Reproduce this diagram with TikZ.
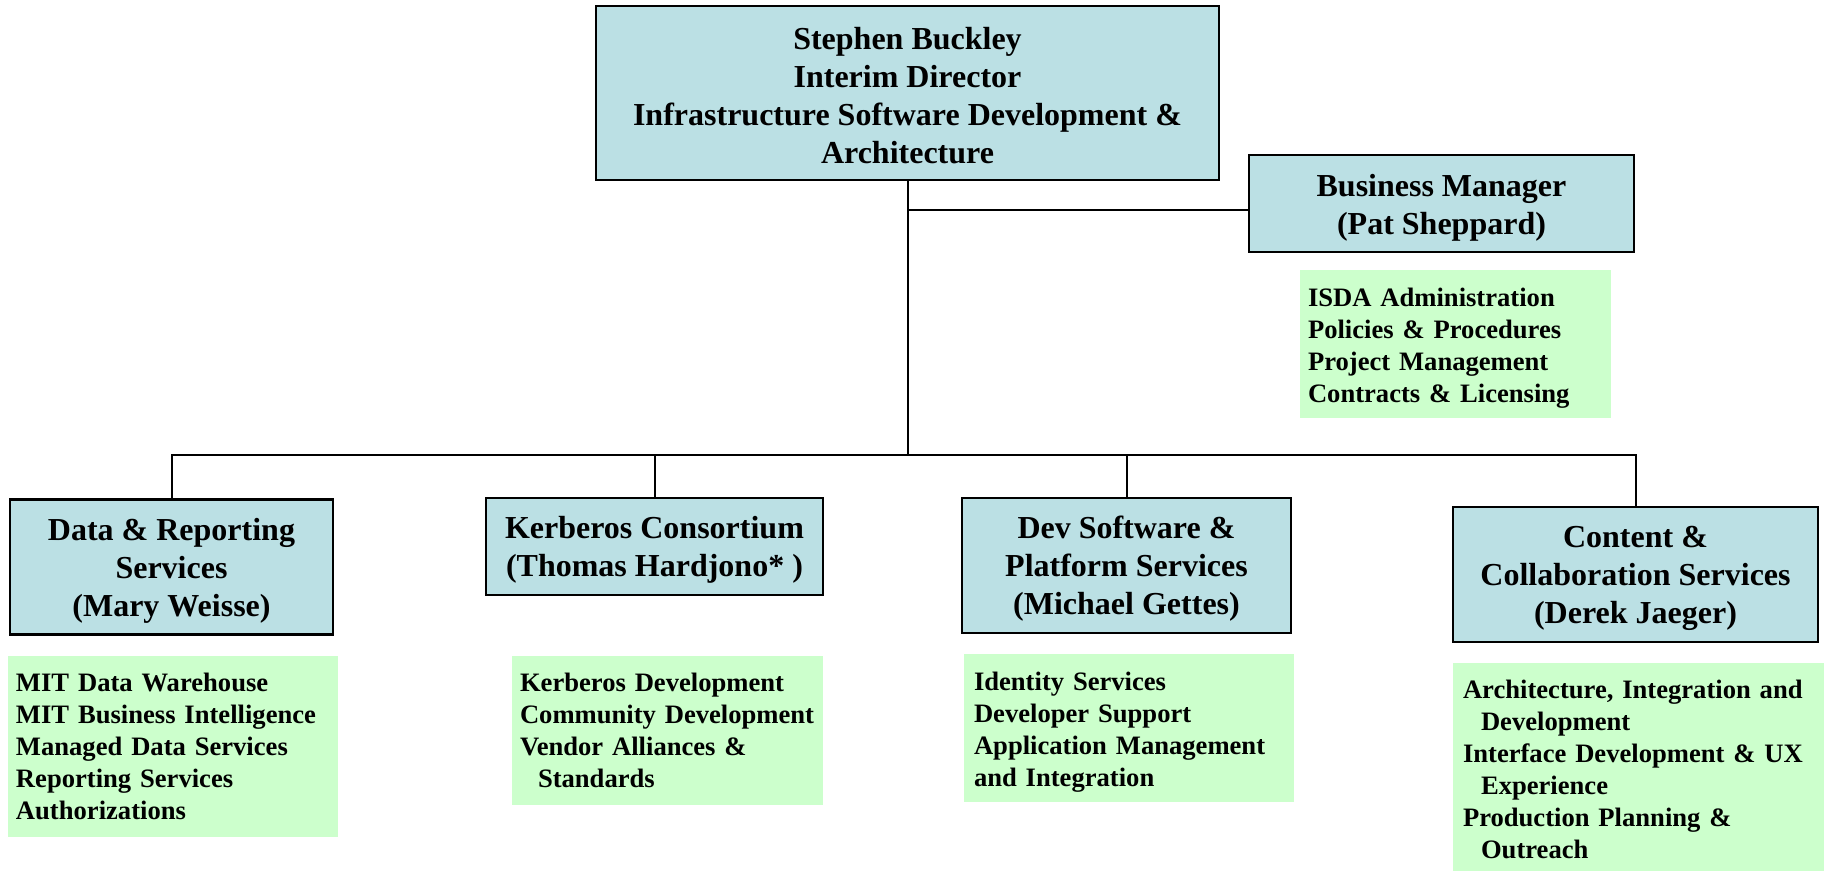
\documentclass[tikz,border=0pt]{standalone}
\usepackage{fontspec}
\setmainfont{Liberation Serif}
\definecolor{boxblue}{RGB}{187,224,228}
\definecolor{boxgreen}{RGB}{204,255,204}
\tikzset{
  headbox/.style={draw=black, line width=1.1pt, fill=boxblue, inner sep=0pt},
  headtext/.style={align=center, inner sep=0pt, font=\fontsize{16}{19}\selectfont\bfseries},
  listbox/.style={fill=boxgreen, inner sep=0pt},
  listtext/.style={align=left, inner sep=0pt, font=\fontsize{13.3}{16}\selectfont\bfseries},
  link/.style={line width=1pt, draw=black}
}
\newcommand{\hang}{\hspace*{9pt}}
\begin{document}
\begin{tikzpicture}[x=0.5pt,y=-0.5pt]
\useasboundingbox (0,0) rectangle (1826,871);
% head boxes
\node[headbox, minimum width=311.5pt, minimum height=87pt,
  label={[headtext, yshift=-1.2pt]center:{Stephen Buckley\\Interim Director\\Infrastructure Software Development \&\\Architecture}}]
  (top) at (907.5,93) {};
\node[headbox, minimum width=192.5pt, minimum height=48.5pt,
  label={[headtext, yshift=-2pt]center:{Business Manager\\(Pat Sheppard)}}]
  (bm) at (1441.5,203.5) {};
\node[headbox, minimum width=161.5pt, minimum height=67.5pt,
  label={[headtext, yshift=-1.8pt]center:{Data \& Reporting\\Services\\(Mary Weisse)}}]
  (drs) at (171.5,567) {};
\node[headbox, minimum width=168.5pt, minimum height=48.5pt,
  label={[headtext, yshift=-1.8pt]center:{Kerberos Consortium\\(Thomas Hardjono* )}}]
  (kc) at (654.5,546.5) {};
\node[headbox, minimum width=164.5pt, minimum height=67.5pt,
  label={[headtext, yshift=-1.8pt]center:{Dev Software \&\\Platform Services\\(Michael Gettes)}}]
  (dsp) at (1126.5,565.5) {};
\node[headbox, minimum width=182.5pt, minimum height=67.5pt,
  label={[headtext, yshift=-1.8pt]center:{Content \&\\Collaboration Services\\(Derek Jaeger)}}]
  (ccs) at (1635.5,574.5) {};
% list boxes
\node[listbox, minimum width=155.5pt, minimum height=74pt,
  label={[listtext, text width=147.5pt, yshift=-2.2pt]center:{ISDA Administration\\Policies \& Procedures\\Project Management\\Contracts \& Licensing}}]
  (bmg) at (1455.5,344) {};
\node[listbox, minimum width=165pt, minimum height=90.5pt,
  label={[listtext, text width=157pt]center:{MIT Data Warehouse\\MIT Business Intelligence\\Managed Data Services\\Reporting Services\\Authorizations}}]
  (drsg) at (173,746.5) {};
\node[listbox, minimum width=155.5pt, minimum height=74.5pt,
  label={[listtext, text width=147.5pt]center:{Kerberos Development\\Community Development\\Vendor Alliances \&\\\hang Standards}}]
  (kcg) at (667.5,730.5) {};
\node[listbox, minimum width=165pt, minimum height=74pt,
  label={[listtext, text width=155pt, yshift=-2.2pt]center:{Identity Services\\Developer Support\\Application Management\\and Integration}}]
  (dspg) at (1129,728) {};
\node[listbox, minimum width=185.5pt, minimum height=104pt,
  label={[listtext, text width=175.5pt, yshift=-1.2pt]center:{Architecture, Integration and\\\hang Development\\Interface Development \& UX\\\hang Experience\\Production Planning \&\\\hang Outreach}}]
  (ccsg) at (1638.5,767) {};
% connectors
\coordinate (bus) at (907.5,455);
\coordinate (bmjoin) at (907.5,210);
\draw[link] (top.south) -- (bus);
\draw[link] (bmjoin) -- (bmjoin -| bm.west);
\draw[link] (drs.north) -- (drs.north |- bus) -- (ccs.north |- bus) -- (ccs.north);
\draw[link] (kc.north) -- (kc.north |- bus);
\draw[link] (dsp.north) -- (dsp.north |- bus);
\end{tikzpicture}
\end{document}
